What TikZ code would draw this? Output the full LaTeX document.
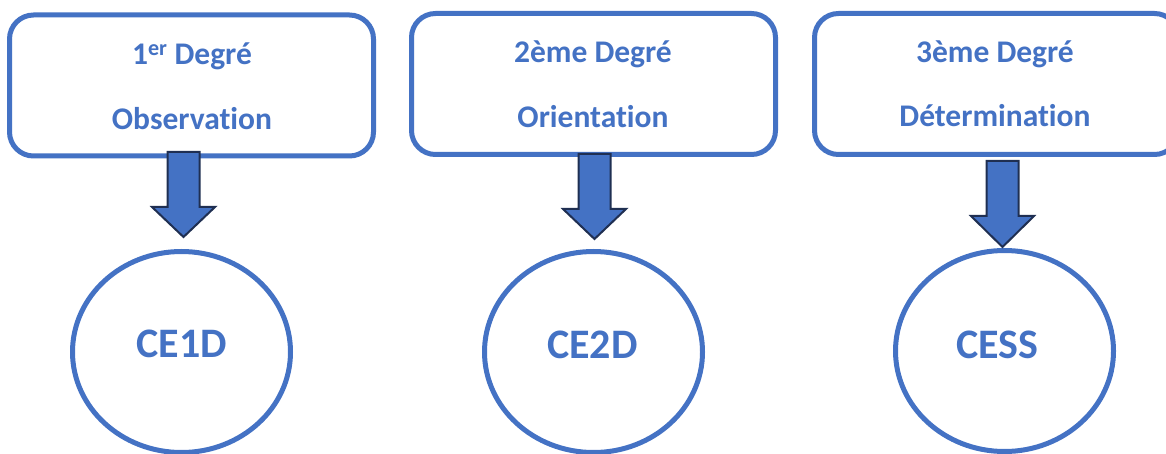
\documentclass[tikz,border=0pt]{standalone}
\usepackage{fontspec}
\setmainfont{Carlito}[Ligatures={NoCommon,NoContextual}]
\usetikzlibrary{shapes.geometric,calc}
\definecolor{accent}{HTML}{4472C4}
\definecolor{navy}{HTML}{1F2F52}
\newcommand\degarrow[5]{%
  \coordinate (#1top) at (#2,#3);
  \coordinate (#1tip) at (#2,#5);
  \draw[blockarrow] ($(#1top)+(-16,0)$) -- ($(#1top)+(16,0)$) -- (#2+16,#4) -- (#2+31.5,#4)
     -- (#1tip) -- (#2-31.5,#4) -- (#2-16,#4) -- cycle;}
\begin{document}
\begin{tikzpicture}[x=1pt,y=-1pt,
  degbox/.style={draw=accent, fill=white, line width=5pt, rounded corners=24pt,
     minimum width=364pt, minimum height=141pt, inner sep=0pt},
  ring/.style={draw=accent, line width=5pt, ellipse, minimum width=218pt,
     minimum height=201pt, inner sep=0pt},
  boxtxt/.style={text=accent, font=\fontsize{31.5}{38}\selectfont\bfseries, anchor=base, inner sep=0pt},
  ringtxt/.style={text=accent, font=\fontsize{42}{50}\selectfont\bfseries, anchor=base, inner sep=0pt},
  blockarrow/.style={fill=accent, draw=navy, line width=2pt, line join=miter}]
\useasboundingbox (0,0) rectangle (1166,454);
% boxes
\node[degbox] (b1) at (191.5,85.5) {};
\node[degbox] (b2) at (593.5,84) {};
\node[degbox] (b3) at (996.5,84) {};
\node[boxtxt] (b1a) at (192,65) {1\textsuperscript{er} Degré};
\node[boxtxt] (b1b) at (192,130) {Observation};
\node[boxtxt] (b2a) at (593,63) {2ème Degré};
\node[boxtxt] (b2b) at (593,128) {Orientation};
\node[boxtxt] (b3a) at (995,63) {3ème Degré};
\node[boxtxt] (b3b) at (995,127) {Détermination};
% ellipses
\node[ring] (c1) at (181.5,352) {};
\node[ring] (c2) at (593.5,352) {};
\node[ring] (c3) at (1004.5,351) {};
\node[ringtxt] (c1t) at (182,357) {CE1D};
\node[ringtxt] (c2t) at (592.5,358) {CE2D};
\node[ringtxt] (c3t) at (997.5,358) {CESS};
% block arrows
\degarrow{a1}{183.5}{152}{207}{237}
\degarrow{a2}{594.5}{154}{209}{239}
\degarrow{a3}{1002.5}{161}{216}{247}
\end{tikzpicture}
\end{document}
